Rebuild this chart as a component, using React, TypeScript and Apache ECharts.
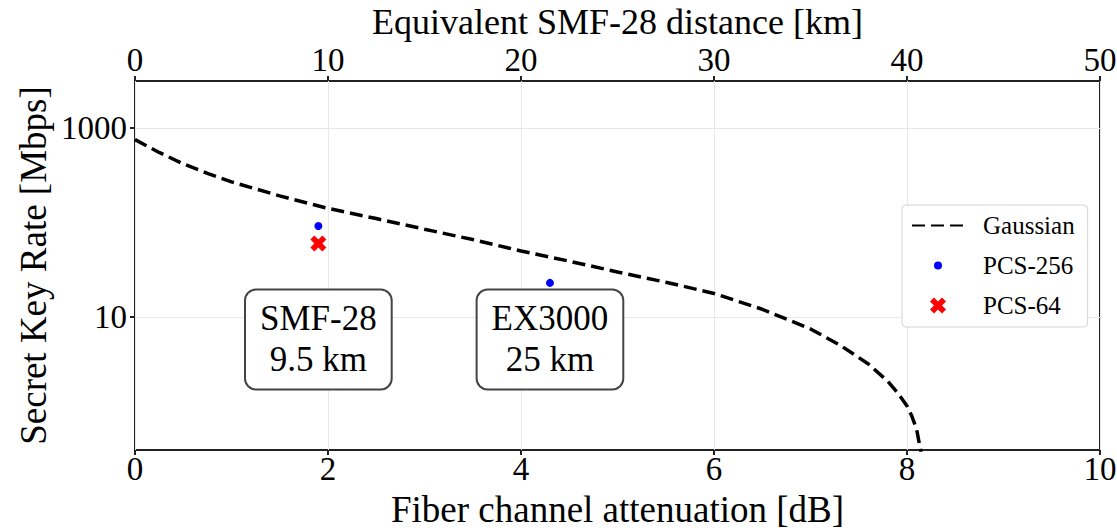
import React, { useEffect, useRef } from 'react';
import * as echarts from 'echarts';

// Gaussian modulation curve: secret key rate vs. channel attenuation
const attenuationDb = [0, 0.25, 0.5, 0.75, 1, 1.5, 2, 2.5, 3, 3.5, 4, 4.5, 5, 5.5, 6, 6.5, 7, 7.3, 7.6, 7.8, 7.9, 8.0, 8.05, 8.1, 8.15];
const gaussianRate = [752, 550, 417, 331, 269, 191, 141, 110, 85, 66, 50, 39, 30, 23.4, 17.8, 12.1, 7.5, 5.1, 3.2, 2.1, 1.6, 1.15, 0.9, 0.65, 0.35];

// Experimental points
const pcs256Db = [1.9, 4.3];
const pcs256Rate = [92, 23];
const pcs64Db = [1.9];
const pcs64Rate = [60];

// Annotation boxes
const annotDb = [1.9, 4.3];
const annotRate = [5.8, 5.8];
const annotText = ['SMF-28\n9.5 km', 'EX3000\n25 km'];

// Axis ticks
const yTickValues = [10, 1000];
const dbTicks = { min: 0, max: 10, interval: 2 };
const kmTicks = { min: 0, max: 50, interval: 10 };

const FONT = 'Liberation Serif';
const X_PATH = 'path://M1,0 L2,1 L3,0 L4,1 L3,2 L4,3 L3,4 L2,3 L1,4 L0,3 L1,2 L0,1 Z';
const DOT_ICON = 'path://M0,0 M16,16 M4,8 A4,4 0 1 1 12,8 A4,4 0 1 1 4,8 Z';

export default function App() {
  const ref = useRef<HTMLDivElement>(null);

  useEffect(() => {
    if (!ref.current) return;
    const chart = echarts.init(ref.current, undefined, { renderer: 'svg' });
    const tickLine = { color: '#222', width: 2 };
    const gridLine = { color: '#e8e8e8', width: 1 };
    const labelStyle = { fontFamily: FONT, fontSize: 33, color: '#000' };
    const nameStyle = { fontFamily: FONT, fontSize: 37, color: '#000' };

    chart.setOption({
      animation: false,
      backgroundColor: '#fff',
      grid: {
        left: 135,
        right: 17,
        top: 81,
        bottom: 82,
        containLabel: false,
        outerBoundsMode: 'none',
        show: true,
        borderColor: '#222',
        borderWidth: 2,
        backgroundColor: 'transparent',
      },
      legend: {
        data: [
          { name: 'Gaussian', itemStyle: { color: 'rgba(0,0,0,0)', borderWidth: 0 } },
          { name: 'PCS-256', icon: DOT_ICON },
          { name: 'PCS-64', icon: X_PATH },
        ],
        orient: 'vertical',
        left: 902,
        top: 205,
        itemWidth: 52,
        itemHeight: 16,
        itemGap: 15,
        padding: [8, 13, 9, 9],
        backgroundColor: '#fff',
        borderColor: '#d4d4d4',
        borderWidth: 1,
        borderRadius: 4,
        selectedMode: false,
        textStyle: { fontFamily: FONT, fontSize: 25, color: '#000', padding: [0, 0, 0, 14] },
      },
      xAxis: [
        {
          type: 'value',
          position: 'bottom',
          ...dbTicks,
          axisLine: { show: false },
          axisTick: { show: true, length: 5, lineStyle: tickLine },
          axisLabel: { ...labelStyle, margin: 2 },
          splitLine: { show: true, lineStyle: gridLine },
          name: 'Fiber channel attenuation [dB]',
          nameLocation: 'middle',
          nameGap: 41,
          nameMoveOverlap: false,
          nameTextStyle: nameStyle,
        },
        {
          type: 'value',
          position: 'top',
          ...kmTicks,
          axisLine: { show: false },
          axisTick: { show: true, length: 5, lineStyle: tickLine },
          axisLabel: { ...labelStyle, margin: 4.5 },
          splitLine: { show: false },
          name: 'Equivalent SMF-28 distance [km]',
          nameLocation: 'middle',
          nameGap: 41.5,
          nameMoveOverlap: false,
          nameTextStyle: { ...nameStyle, fontSize: 36 },
        },
      ],
      yAxis: {
        type: 'log',
        logBase: 10,
        min: 0.394,
        max: 3130,
        axisLine: { show: false },
        axisTick: { show: true, length: 5, lineStyle: tickLine, customValues: yTickValues },
        axisLabel: {
          ...labelStyle,
          margin: 8,
          customValues: yTickValues,
          formatter: (v: number) => String(v),
        },
        splitLine: { show: true, lineStyle: gridLine },
        name: 'Secret Key Rate [Mbps]',
        nameLocation: 'middle',
        nameGap: 83,
        nameMoveOverlap: false,
        nameTextStyle: nameStyle,
      },
      series: [
        {
          name: 'Gaussian',
          type: 'line',
          xAxisIndex: 0,
          data: attenuationDb.map((x, i) => [x, gaussianRate[i]]),
          symbol: 'none',
          showSymbol: false,
          clip: true,
          lineStyle: { color: '#000', width: 3.5, type: [13, 6] },
          itemStyle: { color: '#000' },
          z: 3,
        },
        {
          name: 'PCS-256',
          type: 'scatter',
          xAxisIndex: 0,
          data: pcs256Db.map((x, i) => [x, pcs256Rate[i]]),
          symbol: 'circle',
          symbolSize: 8,
          itemStyle: { color: '#0000ff', opacity: 1 },
          z: 4,
        },
        {
          name: 'PCS-64',
          type: 'scatter',
          xAxisIndex: 0,
          data: pcs64Db.map((x, i) => [x, pcs64Rate[i]]),
          symbol: X_PATH,
          symbolSize: 16,
          itemStyle: { color: '#ff0000', opacity: 1 },
          z: 4,
        },
        {
          name: 'annotations',
          type: 'scatter',
          xAxisIndex: 0,
          silent: true,
          data: annotDb.map((x, i) => ({ value: [x, annotRate[i]], name: annotText[i] })),
          symbolSize: 1,
          itemStyle: { color: 'rgba(0,0,0,0)', opacity: 1 },
          z: 5,
          label: {
            show: true,
            position: 'inside',
            formatter: '{b}',
            fontFamily: FONT,
            fontSize: 35,
            lineHeight: 41,
            color: '#000',
            opacity: 1,
            align: 'center',
            backgroundColor: '#fff',
            borderColor: '#444',
            borderWidth: 2,
            borderRadius: 10,
            padding: [8, 14],
          },
        },
      ],
    });

    return () => chart.dispose();
  }, []);

  return (
    <div
      ref={ref}
      style={{ position: 'fixed', left: 0, top: 0, width: 1117, height: 532, background: '#fff' }}
    />
  );
}
